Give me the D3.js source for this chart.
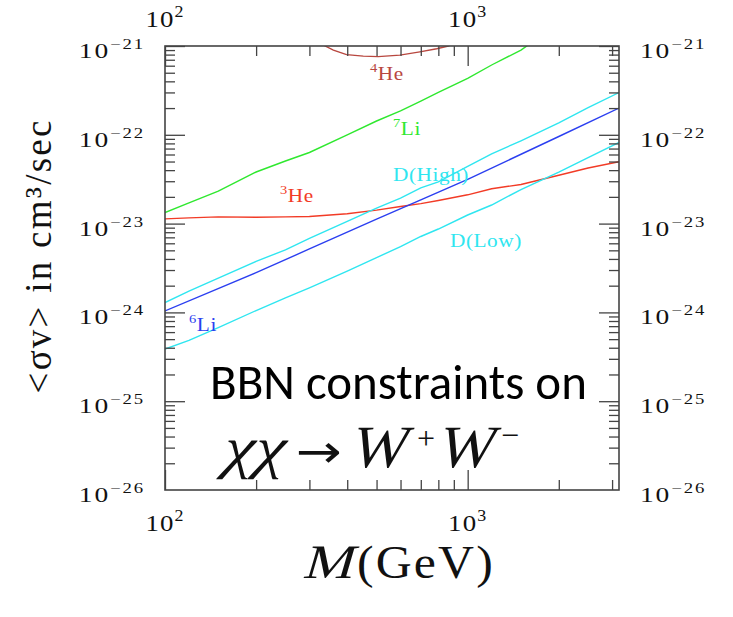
<!DOCTYPE html>
<html>
<head>
<meta charset="utf-8">
<script src="https://cdn.jsdelivr.net/npm/d3@7"></script>
<style>
body { margin: 0; background: #fff; }
text { font-family: "Liberation Serif", serif; }
</style>
</head>
<body>
<svg id="chart" width="733" height="617"></svg>
<script>
// mass grid in GeV, shared by most curves
const mass = [100, 120, 150, 200, 250, 300, 400, 500, 600, 700, 800, 1000, 1200, 1500, 2000, 2500, 3162]

// upper limits on <sigma v> in cm^3/sec
const he3 = [1.13e-23, 1.16e-23, 1.19e-23, 1.18e-23, 1.19e-23, 1.20e-23, 1.29e-23, 1.42e-23, 1.56e-23,
	1.68e-23, 1.82e-23, 2.11e-23, 2.47e-23, 2.76e-23, 3.50e-23, 4.23e-23, 4.98e-23]
const dHigh = [1.29e-24, 1.74e-24, 2.43e-24, 3.75e-24, 5.07e-24, 6.80e-24, 1.06e-23, 1.49e-23, 1.94e-23,
	2.52e-23, 2.95e-23, 4.40e-23, 6.10e-23, 8.56e-23, 1.36e-22, 2.02e-22, 2.99e-22]
const dLow = [3.87e-25, 4.85e-25, 6.73e-25, 1.05e-24, 1.46e-24, 1.89e-24, 2.91e-24, 4.14e-24, 5.50e-24,
	7.16e-24, 8.69e-24, 1.25e-23, 1.62e-23, 2.42e-23, 3.79e-23, 5.54e-23, 8.19e-23]

const li7Mass = [100, 120, 150, 200, 250, 300, 400, 500, 600, 700, 800, 1000, 1200, 1500, 1600]
const li7 = [1.33e-23, 1.71e-23, 2.32e-23, 3.81e-23, 5.07e-23, 6.32e-23, 1.0e-22, 1.43e-22, 1.86e-22,
	2.40e-22, 3.0e-22, 4.32e-22, 6.11e-22, 9.0e-22, 1.05e-21]

const li6Mass = [100, 200, 300, 500, 700, 1000, 2000, 3162]
const li6 = [1.04e-24, 2.80e-24, 5.18e-24, 1.12e-23, 1.85e-23, 3.15e-23, 9.57e-23, 2.0e-22]

const he4Mass = [330, 338, 360, 398, 452, 506, 597, 695, 790, 863, 880]
const he4 = [1.06e-21, 1.0e-21, 9.0e-22, 8.0e-22, 7.7e-22, 7.6e-22, 7.9e-22, 8.6e-22, 9.3e-22, 1.0e-21, 1.03e-21]

const yDecades = [-21, -22, -23, -24, -25, -26]
const xDecades = [2, 3]

const curves = [
	{name: 'he4', xs: he4Mass, ys: he4, color: '#b8473f'},
	{name: 'li7', xs: li7Mass, ys: li7, color: '#2fe82f'},
	{name: 'he3', xs: mass, ys: he3, color: '#f23b26'},
	{name: 'dHigh', xs: mass, ys: dHigh, color: '#2fe6f0'},
	{name: 'dLow', xs: mass, ys: dLow, color: '#2fe6f0'},
	{name: 'li6', xs: li6Mass, ys: li6, color: '#2b3ff0'},
]

const curveLabels = [
	{sup: '4', main: 'He', x: 370, y: 80, color: '#b8473f'},
	{sup: '7', main: 'Li', x: 393, y: 135, color: '#2fe82f'},
	{sup: '', main: 'D(High)', x: 393, y: 181, color: '#2fe6f0'},
	{sup: '3', main: 'He', x: 280, y: 202, color: '#f23b26'},
	{sup: '', main: 'D(Low)', x: 450, y: 247, color: '#2fe6f0'},
	{sup: '6', main: 'Li', x: 189, y: 331, color: '#2b3ff0'},
]

const svg = d3.select('#chart')
const frame = {left: 165, right: 619, top: 46, bottom: 490}

const x = d3.scaleLog().domain([100, 3162]).range([frame.left, frame.right])
const y = d3.scaleLog().domain([1e-26, 1e-21]).range([frame.bottom, frame.top])

const isMajor = d => Math.abs(Math.log10(d) - Math.round(Math.log10(d))) < 1e-9
const xMinor = x.ticks().filter(d => !isMajor(d))
const xMajor = x.ticks().filter(isMajor)
const yMinor = y.ticks().filter(d => !isMajor(d))
const yMajor = y.ticks().filter(isMajor)

// curves, clipped to the frame
svg.append('clipPath').attr('id', 'plot')
	.append('rect').attr('x', frame.left).attr('y', frame.top)
	.attr('width', frame.right - frame.left).attr('height', frame.bottom - frame.top)

let line = d3.line().x(d => x(d[0])).y(d => y(d[1]))
let plot = svg.append('g').attr('clip-path', 'url(#plot)')
curves.forEach(c => {
	plot.append('path')
		.datum(c.xs.map((m, i) => [m, c.ys[i]]))
		.attr('d', line)
		.attr('fill', 'none')
		.attr('stroke', c.color)
		.attr('stroke-width', 1.4)
})

// inward ticks on all four sides
function ticks(axis, translate, values, size) {
	let g = svg.append('g')
		.attr('transform', translate)
		.call(axis.tickValues(values).tickSize(-size).tickFormat(''))
	g.select('.domain').remove()
	g.selectAll('line').attr('stroke', '#444').attr('stroke-width', 1.3)
}
ticks(d3.axisBottom(x), `translate(0,${frame.bottom})`, xMinor, 10)
ticks(d3.axisBottom(x), `translate(0,${frame.bottom})`, xMajor, 20)
ticks(d3.axisTop(x), `translate(0,${frame.top})`, xMinor, 10)
ticks(d3.axisTop(x), `translate(0,${frame.top})`, xMajor, 20)
ticks(d3.axisLeft(y), `translate(${frame.left},0)`, yMinor, 10)
ticks(d3.axisLeft(y), `translate(${frame.left},0)`, yMajor, 20)
ticks(d3.axisRight(y), `translate(${frame.right},0)`, yMinor, 10)
ticks(d3.axisRight(y), `translate(${frame.right},0)`, yMajor, 20)

svg.append('rect')
	.attr('x', frame.left).attr('y', frame.top)
	.attr('width', frame.right - frame.left).attr('height', frame.bottom - frame.top)
	.attr('fill', 'none').attr('stroke', '#444').attr('stroke-width', 1.6)

// "10^n" style labels
function power(px, py, exp, o) {
	let g = svg.append('g').attr('transform', `translate(${px},${py}) scale(${o.sx},1)`)
	let t = g.append('text').attr('text-anchor', o.anchor)
		.attr('fill', '#111').style('font-size', o.size + 'px')
		.style('letter-spacing', o.ls + 'px')
	t.append('tspan').text('10')
	t.append('tspan').attr('dy', -o.rise).style('font-size', o.sup + 'px')
		.text(String(exp).replace('-', '\u2212'))
}

let yOpt = {size: 22, sup: 15, rise: 9, sx: 1.25, ls: 1.5}
yDecades.forEach(e => {
	power(frame.left - 20, y(Math.pow(10, e)) + 12, e, {...yOpt, anchor: 'end'})
	power(frame.right + 21, y(Math.pow(10, e)) + 12, e, {...yOpt, anchor: 'start'})
})
let xOpt = {size: 24, sup: 16, rise: 10, sx: 1.12, ls: 1, anchor: 'middle'}
xDecades.forEach(e => {
	power(x(Math.pow(10, e)), frame.bottom + 41, e, xOpt)
	power(x(Math.pow(10, e)), 27, e, xOpt)
})

// curve names
curveLabels.forEach(l => {
	let g = svg.append('g').attr('transform', `translate(${l.x},${l.y}) scale(1.12,1)`)
	let t = g.append('text').attr('fill', l.color).style('font-size', '19px')
		.style('letter-spacing', '0.5px')
	if (l.sup) {
		t.append('tspan').attr('dy', -8).style('font-size', '13px').text(l.sup)
		t.append('tspan').attr('dy', 8).text(l.main)
	} else {
		t.append('tspan').text(l.main)
	}
})

// a piece of text, italic faked with a skew, optionally squeezed to a width
function piece(px, py, p) {
	let t = svg.append('text')
		.attr('fill', '#111')
		.style('font-size', p.size + 'px')
		.style('font-family', p.font || null)
		.style('letter-spacing', p.ls ? p.ls + 'px' : null)
		.text(p.text)
	let sx = p.width ? p.width / t.node().getComputedTextLength() : 1
	t.attr('transform', `translate(${px},${py}) scale(${sx},1)` + (p.italic ? ' skewX(-14)' : ''))
}

// axis titles
svg.append('text')
	.attr('transform', 'translate(51,257) rotate(-90)')
	.attr('text-anchor', 'middle')
	.attr('fill', '#111')
	.style('font-size', '37px')
	.attr('textLength', 273)
	.attr('lengthAdjust', 'spacing')
	.text('<\u03c3v> in cm\u00b3/sec')

piece(302, 578, {text: 'M', size: 48, italic: true, width: 50})
piece(357, 578, {text: '(GeV)', size: 46, ls: 2, width: 138})

// annotation
let note = svg.append('g')
note.append('text')
	.attr('fill', '#000')
	.style('font-family', 'Carlito, Lato, sans-serif')
	.style('font-size', '50px')
	.text('BBN constraints on')
let nw = note.node().getBBox().width
note.attr('transform', `translate(210,399) scale(${377 / nw},1)`)

piece(220, 467, {text: '\u03c7\u03c7', size: 58, italic: true, width: 62})
piece(296, 467, {text: '\u2192', size: 46, font: '"DejaVu Sans"', width: 46})
piece(349, 467, {text: 'W', size: 60, italic: true, width: 56})
piece(417, 449, {text: '+', size: 32})
piece(436, 467, {text: 'W', size: 60, italic: true, width: 56})
piece(501, 446, {text: '\u2212', size: 32})
</script>
</body>
</html>
